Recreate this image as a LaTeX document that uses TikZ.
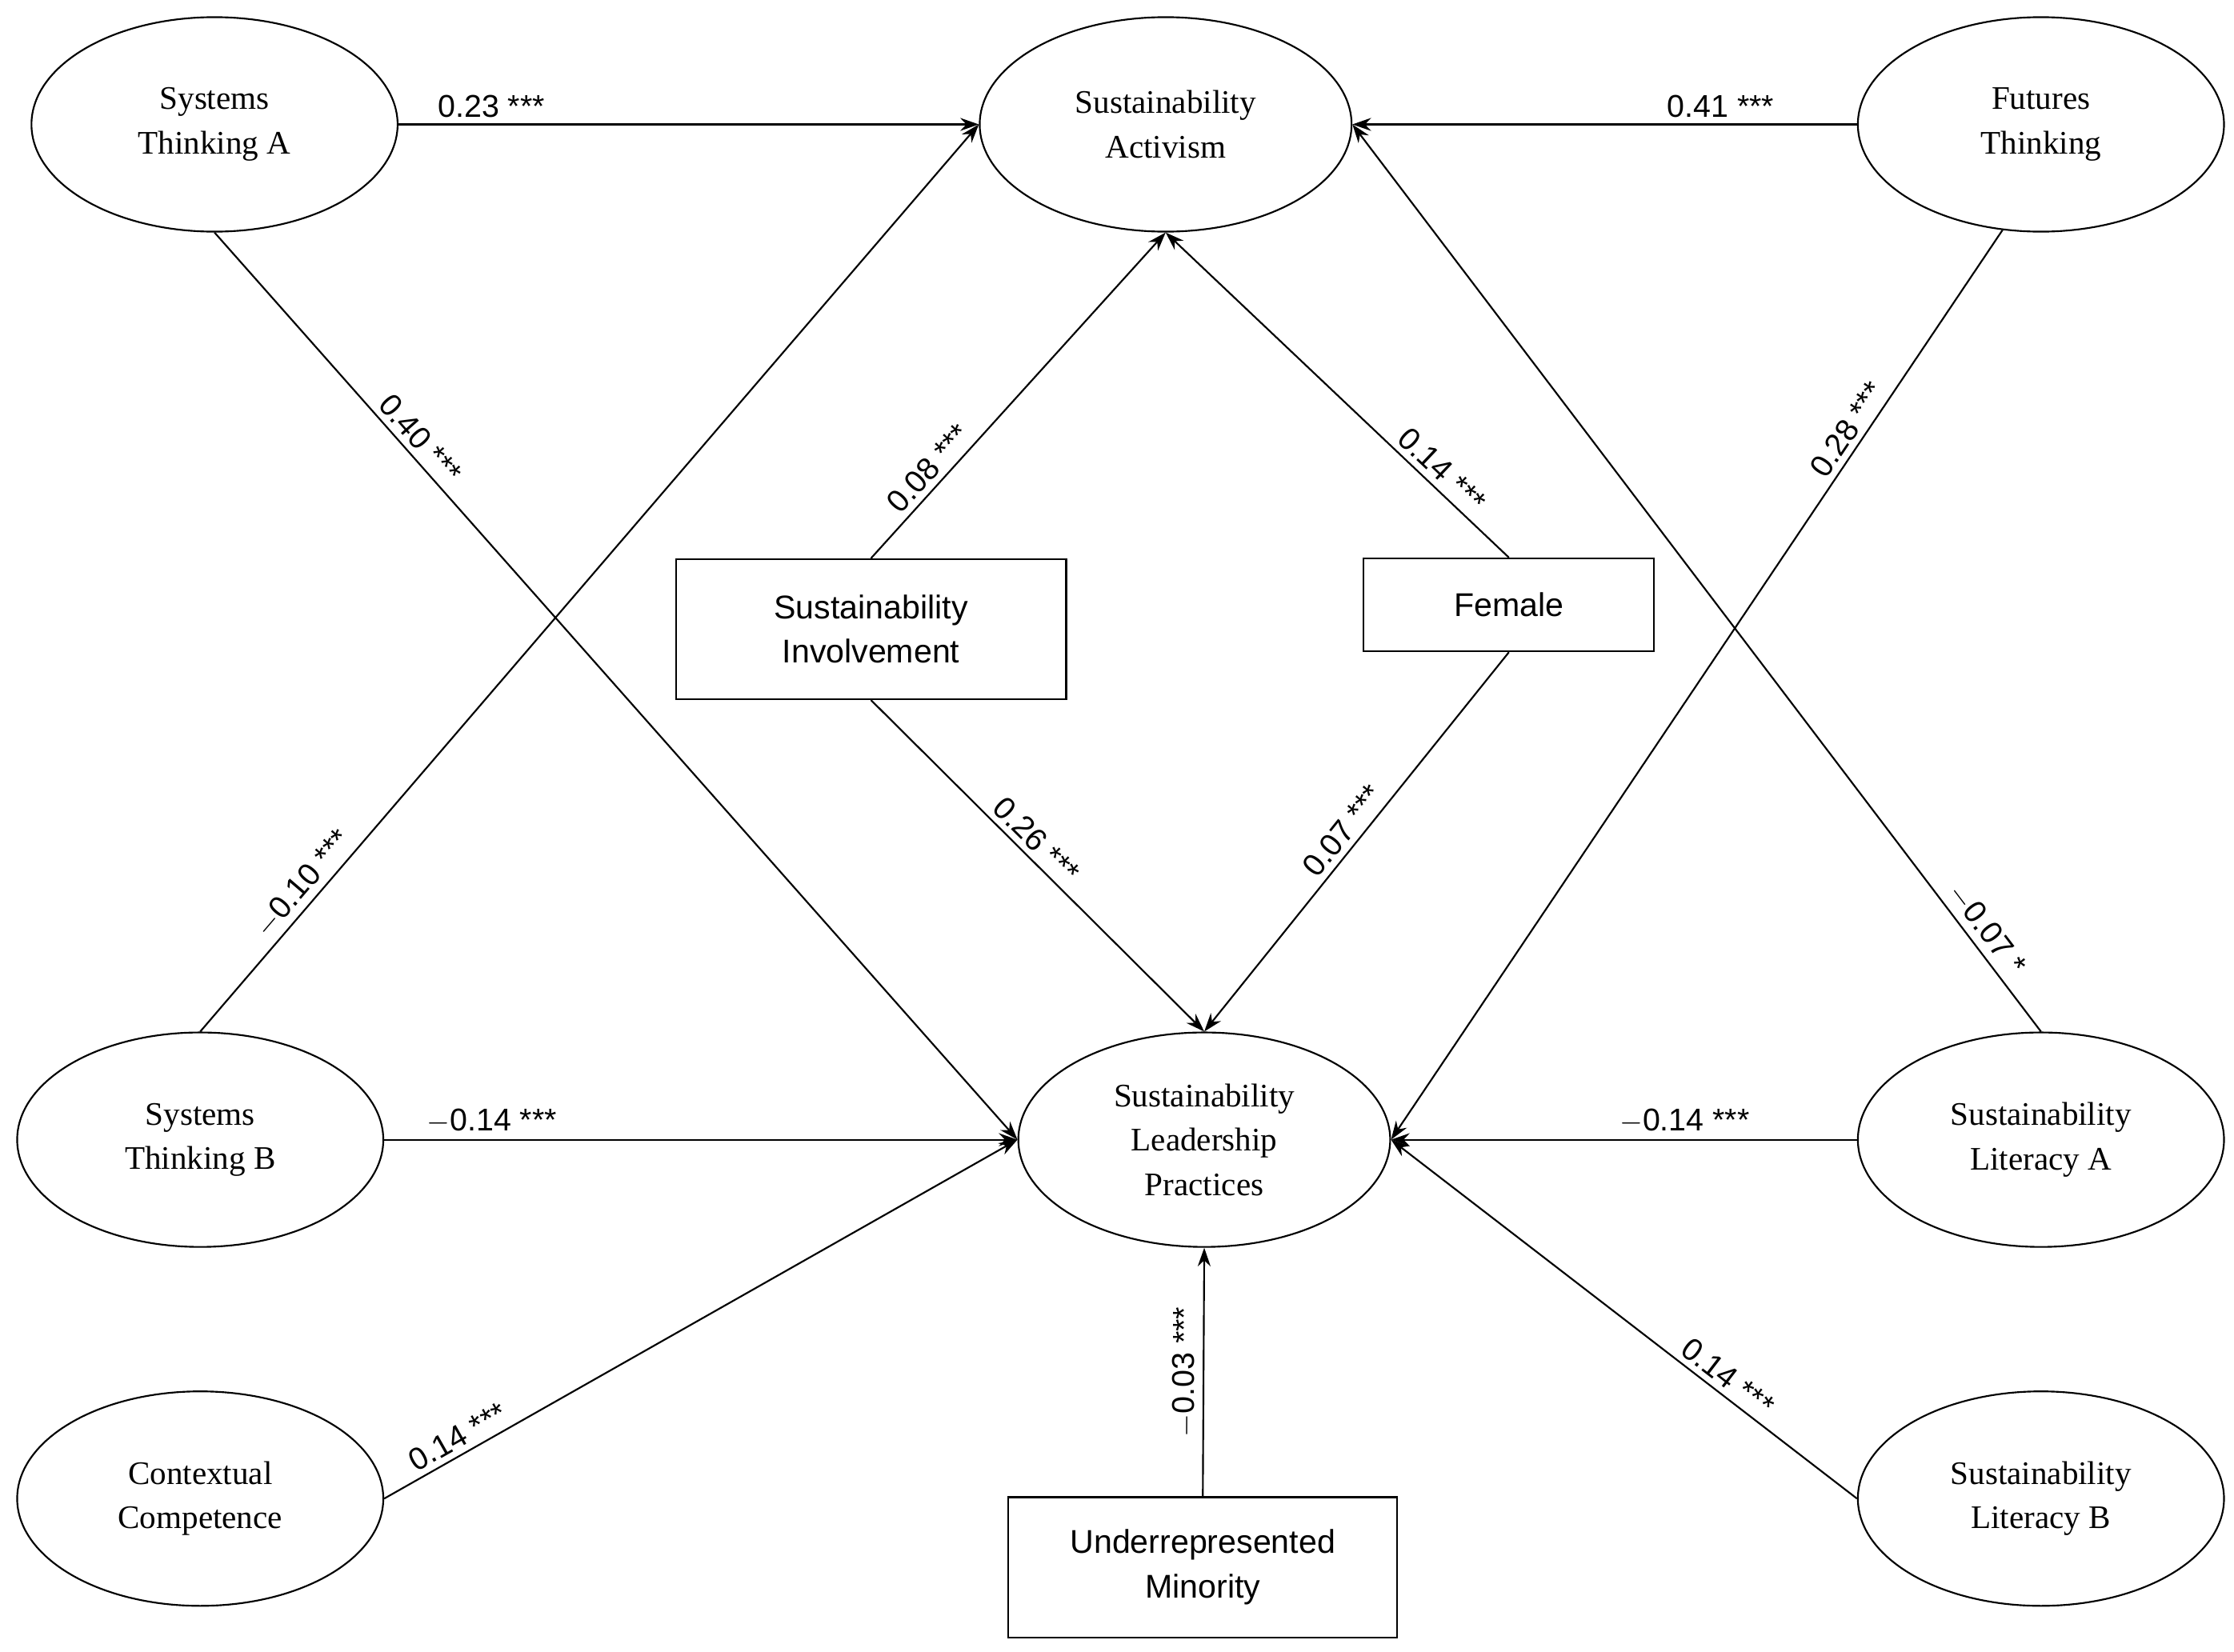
\documentclass[tikz,border=0pt]{standalone}
\usepackage{fontspec}
\setmainfont{Liberation Serif}
\newfontfamily\lsans{Liberation Sans}
\usetikzlibrary{shapes.geometric,arrows.meta}
\begin{document}
\begin{tikzpicture}[x=1pt,y=-1pt,
  ell/.style={draw,ellipse,line width=1.2pt,minimum width=256pt,minimum height=150pt,inner sep=0pt,align=center,font=\fontsize{23}{31}\selectfont},
  box/.style={draw,rectangle,line width=1.2pt,inner sep=0pt,align=center,font=\lsans\fontsize{23}{31}\selectfont},
  arr/.style={line width=1.2pt,-{Stealth[length=13pt,width=9pt]}},
  lab/.style={font=\lsans\fontsize{22}{25}\selectfont,sloped,above,inner sep=4pt}]
\useasboundingbox[fill=white] (0,0) rectangle (1562,1155);
\node[ell] (sta) at (150,87) {Systems\\Thinking A};
\node[ell,minimum width=260pt] (sa) at (815,87) {Sustainability\\Activism};
\node[ell] (ft) at (1427,87) {Futures\\Thinking};
\node[ell] (stb) at (140,797) {Systems\\Thinking B};
\node[ell,minimum width=260pt] (slp) at (842,797) {Sustainability\\Leadership\\Practices};
\node[ell] (sla) at (1427,797) {Sustainability\\Literacy A};
\node[ell] (cc) at (140,1048) {Contextual\\Competence};
\node[ell] (slb) at (1427,1048) {Sustainability\\Literacy B};
\node[box,minimum width=273pt,minimum height=98pt] (si) at (609,440) {Sustainability\\Involvement};
\node[box,minimum width=203pt,minimum height=65pt] (fe) at (1055,423) {Female};
\node[box,minimum width=272pt,minimum height=98pt] (um) at (841,1096) {Underrepresented\\Minority};

\draw[arr] (sta.east) -- node[lab,pos=0.16]{0.23 ***} (sa.west);
\draw[arr] (ft.west) -- node[lab,pos=0.27]{0.41 ***} (sa.east);
\draw[arr] (sta.south) -- node[lab,pos=0.24]{0.40 ***} (slp.west);
\draw[arr] (stb.north) -- node[lab,pos=0.15]{$-$0.10 ***} (sa.west);
\draw[arr] (si.north) -- node[lab,pos=0.24]{0.08 ***} (sa.south);
\draw[arr] (fe.north) -- node[lab,pos=0.23]{0.14 ***} (sa.south);
\draw[arr] (si.south) -- node[lab,pos=0.46]{0.26 ***} (slp.north);
\draw[arr] (fe.south) -- node[lab,pos=0.5]{0.07 ***} (slp.north);
\draw[arr] (ft.250) -- node[lab,pos=0.23]{0.28 ***} (slp.east);
\draw[arr] (sla.north) -- node[lab,pos=0.1]{$-$0.07 *} (sa.east);
\draw[arr] (stb.east) -- node[lab,pos=0.17]{$-$0.14 ***} (slp.west);
\draw[arr] (sla.west) -- node[lab,pos=0.37]{$-$0.14 ***} (slp.east);
\draw[arr] (cc.east) -- node[lab,pos=0.13]{0.14 ***} (slp.west);
\draw[arr] (slb.west) -- node[lab,pos=0.3]{0.14 ***} (slp.east);
\draw[arr] (um.north) -- node[lab,pos=0.5]{$-$0.03 ***} (slp.south);
\end{tikzpicture}
\end{document}
